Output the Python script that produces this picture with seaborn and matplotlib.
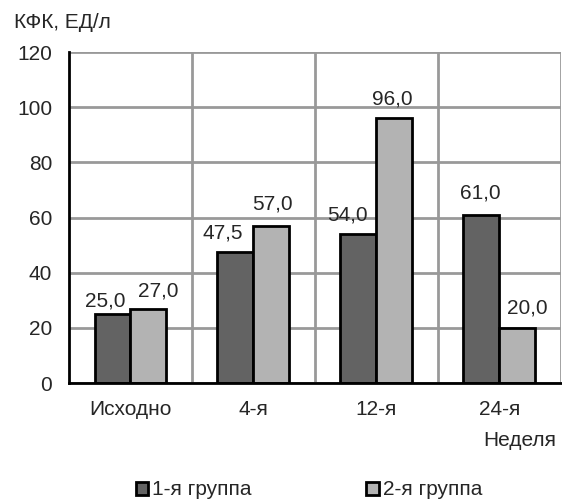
import pandas as pd
import numpy as np
import seaborn as sns
import matplotlib.pyplot as plt
from matplotlib.patches import Patch

# Chart data
weeks = ['Исходно', '4-я', '12-я', '24-я']
groups = ['1-я группа', '2-я группа']
group1 = [25.0, 47.5, 54.0, 61.0]
group2 = [27.0, 57.0, 96.0, 20.0]
colors = ['#636363', '#b3b3b3']

# label nudges in pixels (dx, gap above bar) so labels don't collide
nudge = [
    [(-7, 8), (-13, 14), (-11, 14), (-1, 16)],
    [(10, 12), (1, 16), (-2, 14), (10, 14)],
]

df = pd.DataFrame({
    'week': weeks * 2,
    'value': group1 + group2,
    'group': [groups[0]] * 4 + [groups[1]] * 4,
})

sns.set_style('white')
plt.rcParams['font.family'] = ['Liberation Sans', 'DejaVu Sans']
fs = 15

fig = plt.figure(figsize=(5.62, 5.01), dpi=100)
ax = fig.add_axes([0.1228, 0.2355, 0.8752, 0.6605])

sns.barplot(data=df, x='week', y='value', hue='group', order=weeks,
            hue_order=groups, palette=colors,
            width=0.585, edgecolor='black', linewidth=2, saturation=1,
            ax=ax, legend=False)

# value labels with decimal comma
px = 72 / fig.dpi
for cont, offs in zip(ax.containers, nudge):
    for bar, v, (dx, dy) in zip(cont, cont.datavalues, offs):
        ax.annotate(f'{v:.1f}'.replace('.', ','),
                    xy=(bar.get_x() + bar.get_width() / 2, bar.get_height()),
                    xytext=(dx * px, dy * px), textcoords='offset points',
                    ha='center', va='baseline', fontsize=fs)

ax.set_ylim(0, 120)
ax.set_xlim(-0.5, 3.5)
ax.set_yticks(np.arange(0, 121, 20))
ax.set_xticks(np.arange(0.5, 4, 1), minor=True)
ax.tick_params(axis='x', which='both', length=0, pad=12, labelsize=fs)
ax.tick_params(axis='y', length=0, pad=12, labelsize=fs)
ax.grid(True, axis='y', which='major', color='#999999', linewidth=2)
ax.grid(True, axis='x', which='minor', color='#999999', linewidth=2)
ax.set_axisbelow(True)
for s in ['top', 'right']:
    ax.spines[s].set_visible(False)
for s in ['left', 'bottom']:
    ax.spines[s].set_color('black')
    ax.spines[s].set_linewidth(2)
ax.set_xlabel('')
ax.set_ylabel('')

fig.text(0.025, 0.955, 'КФК, ЕД/л', fontsize=fs, va='center', ha='left')
fig.text(0.99, 0.12, 'Неделя', fontsize=fs, va='center', ha='right')

handles = [Patch(facecolor=c, edgecolor='black', linewidth=2) for c in colors]
fig.legend(handles, groups, loc='center', bbox_to_anchor=(0.55, 0.022),
           ncol=2, frameon=False, fontsize=fs, handlelength=0.6,
           handleheight=0.6, handletextpad=0.2, columnspacing=5.5)

fig.savefig('out.png', dpi=100)
